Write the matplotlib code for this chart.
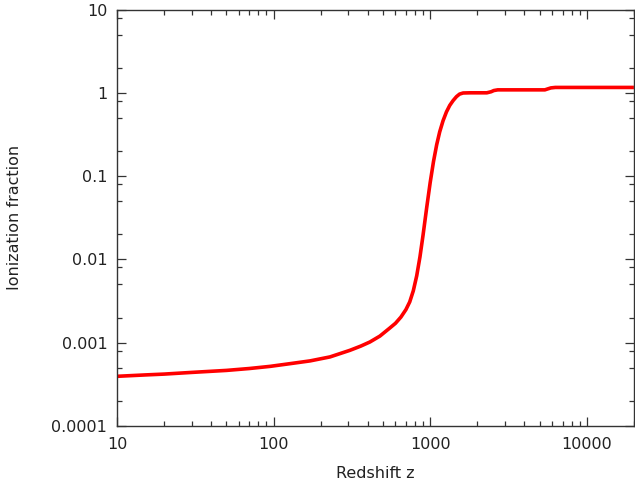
import matplotlib
matplotlib.use("Agg")
import matplotlib.pyplot as plt
from matplotlib.ticker import LogLocator, FixedLocator, FixedFormatter, NullFormatter

# Free-electron fraction through recombination (x_e vs redshift)
redshift = [10, 15, 20, 30, 50, 70, 95, 127, 171, 229, 307, 360, 412, 477, 552,
            600, 650, 700, 740, 780, 820, 860, 900, 950, 1000, 1050, 1100,
            1150, 1208, 1270, 1333, 1400, 1472, 1540, 1623, 1800, 2300,
            2450, 2550, 2700, 5400, 5600, 5900, 6300, 20000]
ion_fraction = [3.95e-4, 4.1e-4, 4.2e-4, 4.4e-4, 4.65e-4, 4.9e-4, 5.2e-4, 5.6e-4,
                6.05e-4, 6.75e-4, 8.1e-4, 9.1e-4, 1.02e-3, 1.2e-3, 1.5e-3,
                1.71e-3, 2.03e-3, 2.5e-3, 3.09e-3, 4.2e-3, 6.35e-3, 1.07e-2,
                1.95e-2, 4.2e-2, 8.4e-2, 0.15, 0.238, 0.34, 0.462, 0.59,
                0.706, 0.806, 0.90, 0.965, 0.995, 1.0, 1.0,
                1.03, 1.065, 1.085, 1.085, 1.11, 1.145, 1.16, 1.16]

x_ticks = [10, 100, 1000, 10000]
x_tick_labels = ["10", "100", "1000", "10000"]
y_ticks = [1e-4, 1e-3, 1e-2, 1e-1, 1, 10]
y_tick_labels = ["0.0001", "0.001", "0.01", "0.1", "1", "10"]

axis_color = "#333333"
text_color = "#222222"

fig = plt.figure(figsize=(6.35, 4.9), dpi=100)
ax = fig.add_axes([0.1843, 0.1306, 0.814, 0.850])

ax.plot(redshift, ion_fraction, color="#ff0000", linewidth=2.6,
        solid_joinstyle="round", solid_capstyle="butt")

ax.set_xscale("log")
ax.set_yscale("log")
ax.set_xlim(10, 20000)
ax.set_ylim(1e-4, 10)

ax.xaxis.set_major_locator(FixedLocator(x_ticks))
ax.xaxis.set_major_formatter(FixedFormatter(x_tick_labels))
ax.xaxis.set_minor_locator(LogLocator(base=10, subs=[2, 3, 4, 5, 6, 7, 8, 9], numticks=20))
ax.xaxis.set_minor_formatter(NullFormatter())

ax.yaxis.set_major_locator(FixedLocator(y_ticks))
ax.yaxis.set_major_formatter(FixedFormatter(y_tick_labels))
ax.yaxis.set_minor_locator(LogLocator(base=10, subs=[2, 5, 8], numticks=20))
ax.yaxis.set_minor_formatter(NullFormatter())

ax.tick_params(which="both", direction="in", top=True, right=True,
               color=axis_color, labelcolor=text_color, labelsize=11.5)
ax.tick_params(which="major", length=6.5, width=0.9)
ax.tick_params(which="minor", length=3.5, width=0.9)
ax.tick_params(axis="x", which="major", pad=8)
ax.tick_params(axis="y", which="major", pad=7)

for spine in ax.spines.values():
    spine.set_color(axis_color)
    spine.set_linewidth(1.0)

ax.set_xlabel("Redshift z", fontsize=11.5, color=text_color, labelpad=10)
ax.set_ylabel("Ionization fraction", fontsize=11.5, color=text_color, labelpad=21)

fig.savefig("out.png", dpi=100)
